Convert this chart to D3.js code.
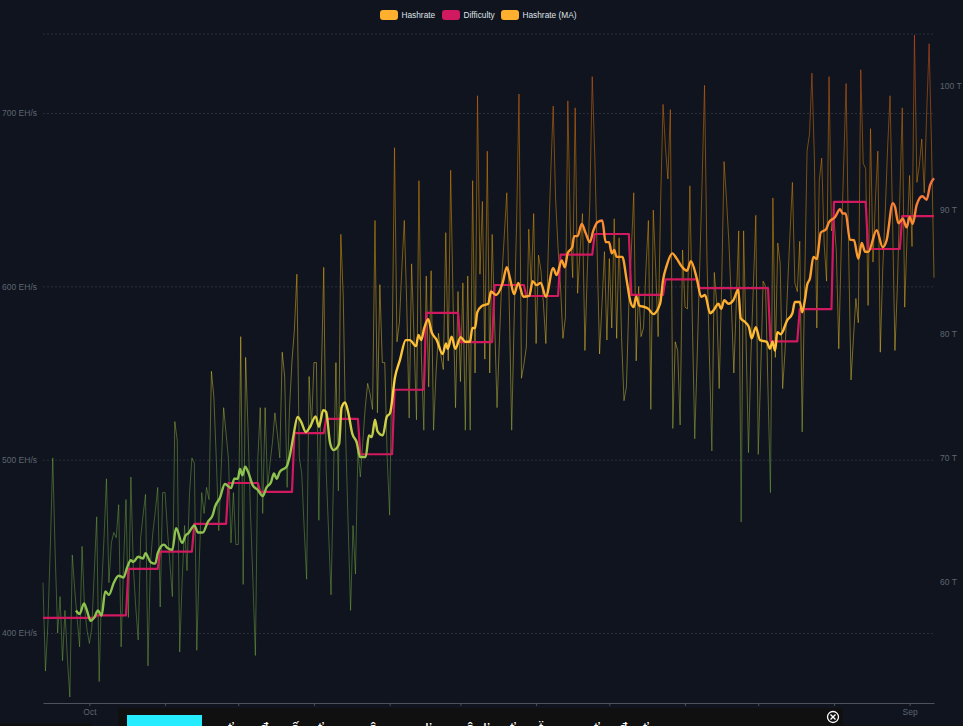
<!DOCTYPE html>
<html>
<head>
<meta charset="utf-8">
<title>Hashrate and Difficulty</title>
<script src="https://cdn.jsdelivr.net/npm/d3@7/dist/d3.min.js"></script>
<style>
  html, body { margin: 0; padding: 0; background: #0f141e; overflow: hidden; }
  svg { display: block; font-family: "Liberation Sans", Arial, sans-serif; }
</style>
</head>
<body>
<svg id="chart" width="963" height="726"></svg>
<script>
// Daily network hashrate in EH/s, one value per day from the first date onward.
const startDate = new Date(2023, 8, 12);
const hashrate = [
  429,378,405,450,501,445,400,421,384,413,385,363,445,425,408,392,450,415,402,394,
  403,435,467,372,425,455,489,429,452,458,455,474,392,440,477,409,490,438,415,396,
  455,468,480,381,440,458,470,484,415,481,481,459,440,421,522,511,389,430,462,436,
  480,501,498,390,440,481,469,484,477,551,536,500,459,495,530,515,500,452,481,451,
  451,571,428,559,517,469,430,387,500,530,469,530,484,498,510,527,515,501,562,548,
  484,530,557,575,607,501,492,460,431,548,519,556,556,465,546,611,494,458,422,490,
  556,482,630,594,513,463,413,462,434,505,490,510,530,544,538,529,638,527,601,556,
  556,501,468,560,680,568,579,610,638,590,524,613,570,523,661,560,517,606,542,609,
  517,550,573,560,552,631,557,667,590,530,597,545,602,517,606,517,661,550,710,607,
  649,558,678,550,630,580,530,570,606,630,654,590,517,580,636,711,547,555,565,633,
  600,642,567,618,609,590,567,622,665,704,650,622,600,570,582,707,634,605,703,596,
  620,642,563,610,648,721,677,620,561,590,620,569,616,576,639,570,628,571,534,542,
  590,620,654,557,600,571,576,610,638,529,644,610,571,648,705,680,662,702,518,568,
  563,520,621,588,587,658,580,512,560,610,660,716,615,560,505,608,590,541,600,672,
  650,625,590,550,590,632,464,632,570,504,560,600,641,503,550,603,600,540,481,651,
  559,625,613,541,563,599,630,660,602,597,626,516,600,678,688,723,674,576,661,674,
  625,603,721,632,640,620,564,623,670,717,623,546,570,593,579,725,671,668,589,691,
  614,650,678,562,610,642,680,710,640,563,600,651,703,588,630,664,623,745,660,670,
  685,654,700,740,680,605
];

// Moving average of the hashrate: day offset from the first date and its value.
const maDays = [
  13.5,15,16.8,18,19.5,21,22.5,24,25.5,27,29,31,33,34.5,36,37,39,41,42,44,46,47,49.5,51,53,54.5,57,58.5,59.5,62,
  63.5,65.5,67.5,69.5,70.5,72.5,74.5,77,78.4,79.8,80.7,81.7,82.8,84,86,88,90,91.6,93.4,94.6,95.7,97,99.8,101,102.5,104.3,105.7,107.7,109.4,111.7,
  113,114.8,116,117.6,119,121.3,122.3,123.7,125,126.7,128.5,129.9,132.2,133.5,134.7,136,137,139.2,140.8,142.2,144.2,146.2,148.6,150.3,152.8,153.8,154.9,156.2,157.8,159.2,
  161.3,163.7,165.1,165.8,167.4,168.9,171.1,172.9,174.9,175.9,177,177.9,179.7,182.4,183.5,185.6,188.3,190,191.3,193,194.7,196.8,199.2,200.6,202.2,203.9,206,209,210.4,212.5,
  213.8,214.9,216.8,217.6,219,220.7,222.3,224,225.4,227.1,229.1,230.5,231.9,233,234,235,237.3,239.1,240.5,241.9,243,244.2,246.6,248,250,252.8,254,255.5,257.8,259.6,
  261.9,263.8,265.4,267.8,269.6,271.2,273.3,274.6,276.7,277.8,279.1,280.8,282.8,284.8,285.8,287.6,289.2,290.3,292,293.7,296.5,297.8,298.8,299.9,300.8,302.2,304.9,307,308,310,
  311,312.2,313,314.2,315.6,317,318.6,320.8,322,324.5,326.5,327.6,328.8,330.6,332.2,334,335.4,336.8,338.1,341.5,344,345.6,348.1,349,350.4,352.2,353.8,355,356.3,357.9,
  360.2,362,363.4,365
];
const maValues = [
  413,411,417,413,407,409,413,410,424,422,429,433,432,438,442,441,444,443,446,441,440,446,451,449,448,460.5,452,456.5,457.5,462,
  458,458,464,468,473,478,486,483.6,489,489,494.6,491,496,493,485,482.5,479,484,487,492,489,493,496,501.5,513,524.6,522,516,519,525,
  519,528.6,527.5,509.6,505.5,509,530,533,527.5,515,510,501.5,501.5,514,513,523,516.5,514,524.6,527,547.6,557.4,569,569,565.5,572,569,576,581,573.6,
  569,561,567,564,571,564,570.7,568,568,576,576,585,588.6,590,597,595,602,611,604.7,595.5,602,594,594.5,603,600.7,602,594,610.5,606.5,615,
  611,619,622.6,629,629,636,630.7,625.5,632,637,638,625.5,625.5,619,621,617,617,603.6,592,588,594,589,588,587,584,590,603.6,612,619,616,
  611,609,614.5,604.7,594,595,584.5,586,590,587,592,590,592,598,581.7,579.4,576.5,570,576.5,569,568,564,568,563,573.6,572.4,580.5,584.5,591,591,
  585,593,600.7,604.7,617,615.7,631,633,637,640,644.5,642,642,627,626.6,616,625,620,620,632.4,622.6,626.6,648,646,636.4,639,634,640,636,647,
  652,650,658.4,662.4
];

// Difficulty in T: the first day of each adjustment period and its level.
const difficultyStarts = [0,22,35,48,62,76,89,103,116,130,144,157,171,185,198,212,226,241,255,269,298,310,324,338,352];
const difficultyLevels = [57.1,57.3,61.05,62.45,64.68,67.98,67.26,72.0,73.15,70.3,75.5,81.7,79.35,83.95,83.06,86.4,88.06,83.15,84.4,83.7,79.4,82,90.65,86.85,89.5];

const hashTicks = [400, 500, 600, 700];
const difficultyTicks = [60, 70, 80, 90, 100];
const monthLabels = { 9: "Oct", 8: "Sep" };
const legendItems = ["Hashrate", "Difficulty", "Hashrate (MA)"];
const bannerGlyphs = ["ť", "đ", "ố", "ť", "ô", "Ľ", "ô", "Ľ", "ť", "ẗ", "ť", "đ", "ť"];
const bannerOffsets = [0, 32, 63, 90, 141, 197, 238, 255, 282, 311, 366, 391, 415];

const COLORS = {
  hash: "#FFB02E",
  difficulty: "#D1195F",
  label: "#5f6571",
  legendText: "#dfe1e6",
  grid: "#2b303b",
  axis: "#4d525e",
  banner: "#101010",
  cyan: "#25edff"
};
const GRADIENT_THIN = ["#F4511E", "#FB8C00", "#FFB300", "#FDD835", "#7CB342"];
const GRADIENT_MA = ["#F7703F", "#FB9C2C", "#FFB732", "#FDD83F", "#8DC24F"];

const margin = { left: 43, right: 29, top: 34, bottom: 23 };
const width = 963, height = 726;

const addDays = d => new Date(startDate.getTime() + d * 864e5);

const x = d3.scaleTime()
  .domain([addDays(0), addDays(365)])
  .range([margin.left, width - margin.right]);

const yHash = d3.scaleLinear()
  .domain([359.6, 745.6])
  .range([height - margin.bottom, margin.top]);

const yDiff = d3.scaleLinear()
  .domain([50.24, 104.19])
  .range([height - margin.bottom, margin.top]);

const svg = d3.select("#chart");

// Each line's gradient follows its own bounding box, running top to 65% down.
const defs = svg.append("defs");
[["gradThin", GRADIENT_THIN], ["gradMA", GRADIENT_MA]].forEach(([id, stops]) => {
  const g = defs.append("linearGradient")
    .attr("id", id)
    .attr("x1", 0).attr("y1", 0).attr("x2", 0).attr("y2", 0.65);
  stops.forEach((c, i) => {
    g.append("stop")
      .attr("offset", i / (stops.length - 1))
      .attr("stop-color", c);
  });
});

svg.append("rect")
  .attr("width", width).attr("height", height)
  .attr("fill", "#0f141e");

// Left axis carries the dashed grid lines.
const leftAxis = svg.append("g")
  .attr("transform", `translate(${margin.left},0)`)
  .call(d3.axisLeft(yHash)
    .tickValues(hashTicks)
    .tickFormat(d => d + " EH/s")
    .tickSize(-(width - margin.left - margin.right))
    .tickPadding(6));
leftAxis.select(".domain").remove();
leftAxis.selectAll("line")
  .attr("stroke", COLORS.grid)
  .attr("stroke-dasharray", "2 2");
leftAxis.selectAll("text")
  .attr("fill", COLORS.label)
  .attr("font-size", 8.5);

// Upper limit of the plot.
svg.append("line")
  .attr("x1", margin.left).attr("x2", width - margin.right)
  .attr("y1", margin.top).attr("y2", margin.top)
  .attr("stroke", COLORS.grid)
  .attr("stroke-dasharray", "2 2");

const rightAxis = svg.append("g")
  .attr("transform", `translate(${width - margin.right},0)`)
  .call(d3.axisRight(yDiff)
    .tickValues(difficultyTicks)
    .tickFormat(d => d + " T")
    .tickSize(0)
    .tickPadding(6));
rightAxis.select(".domain").remove();
rightAxis.selectAll("text")
  .attr("fill", COLORS.label)
  .attr("font-size", 8.5);

const bottomAxis = svg.append("g")
  .attr("transform", `translate(0,${height - margin.bottom})`)
  .call(d3.axisBottom(x)
    .ticks(d3.timeMonth.every(1))
    .tickFormat(d => monthLabels[d.getMonth()] || "")
    .tickSize(3)
    .tickPadding(3)
    .tickSizeOuter(0));
bottomAxis.select(".domain").attr("stroke", COLORS.axis);
bottomAxis.selectAll("line").attr("stroke", COLORS.axis);
bottomAxis.selectAll("text")
  .attr("fill", COLORS.label)
  .attr("font-size", 8.5);

// Raw daily hashrate.
const hashLine = d3.line()
  .x((d, i) => x(addDays(i)))
  .y(d => yHash(d));

svg.append("path")
  .attr("d", hashLine(hashrate))
  .attr("fill", "none")
  .attr("stroke", "url(#gradThin)")
  .attr("stroke-width", 1)
  .attr("stroke-opacity", 0.45);

// Difficulty holds its level between adjustments.
const difficultyDaily = d3.range(0, 366).map(day => {
  const idx = d3.bisectRight(difficultyStarts, day) - 1;
  return [day, difficultyLevels[idx]];
});
const diffLine = d3.line()
  .x(d => x(addDays(d[0])))
  .y(d => yDiff(d[1]));

svg.append("path")
  .attr("d", diffLine(difficultyDaily))
  .attr("fill", "none")
  .attr("stroke", COLORS.difficulty)
  .attr("stroke-width", 2.2)
  .attr("stroke-linejoin", "round");

// Moving average on top.
const maLine = d3.line()
  .x((d, i) => x(addDays(maDays[i])))
  .y(d => yHash(d))
  .curve(d3.curveMonotoneX);

svg.append("path")
  .attr("d", maLine(maValues))
  .attr("fill", "none")
  .attr("stroke", "url(#gradMA)")
  .attr("stroke-width", 2.4)
  .attr("stroke-linejoin", "round");

// Legend.
const legendSwatchX = [380, 442, 501];
const legendColors = [COLORS.hash, COLORS.difficulty, COLORS.hash];
const legend = svg.append("g").selectAll("g")
  .data(legendItems)
  .join("g")
  .attr("transform", (d, i) => `translate(${legendSwatchX[i]},10)`);
legend.append("rect")
  .attr("width", 18).attr("height", 10).attr("rx", 3)
  .attr("fill", (d, i) => legendColors[i]);
legend.append("text")
  .attr("x", 21.5).attr("y", 8.2)
  .attr("font-size", 8.3)
  .attr("fill", COLORS.legendText)
  .text(d => d);

// Promotional strip along the lower edge of the page.
const strip = svg.append("g");
strip.append("rect")
  .attr("x", 118).attr("y", 708).attr("width", 725).attr("height", 18)
  .attr("fill", COLORS.banner);
strip.append("rect")
  .attr("x", 0).attr("y", 723.5).attr("width", 92).attr("height", 3)
  .attr("fill", COLORS.banner);
strip.append("rect")
  .attr("x", 843).attr("y", 725).attr("width", 120).attr("height", 1)
  .attr("fill", COLORS.banner);
strip.append("rect")
  .attr("x", 127).attr("y", 715).attr("width", 75).attr("height", 11)
  .attr("fill", COLORS.cyan);
strip.selectAll("text")
  .data(bannerGlyphs)
  .join("text")
  .attr("x", (d, i) => 228 + bannerOffsets[i])
  .attr("y", 733)
  .attr("font-size", 15)
  .attr("fill", "#ffffff")
  .text(d => d);

const closeIcon = strip.append("g")
  .attr("transform", "translate(833,717)")
  .attr("stroke", "#ffffff")
  .attr("fill", "none");
closeIcon.append("circle").attr("r", 5.5).attr("stroke-width", 1.3);
closeIcon.append("path").attr("d", "M-2.5,-2.5L2.5,2.5M2.5,-2.5L-2.5,2.5").attr("stroke-width", 1.4);
</script>
</body>
</html>
